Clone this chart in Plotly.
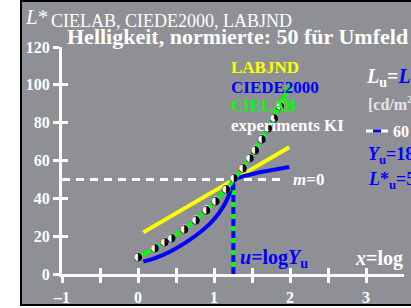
import plotly.graph_objects as go

W, H = 411, 308

# ---------------- data ----------------
lab_x = [0.0, 0.25, 0.5, 0.75, 1.0, 1.25, 1.5, 1.75, 2.0]          # CIELAB
lab_L = [9.0, 14.3, 20.7, 28.4, 37.8, 49.2, 63.0, 79.8, 100.0]

de_low_x = [0.07, 0.25, 0.42, 0.6, 0.77, 0.95, 1.08, 1.19, 1.255]    # CIEDE2000 below surround
de_low_L = [6.5, 8.8, 11.8, 15.9, 20.6, 26.8, 33.0, 40.9, 50.0]
de_high_x = [1.255, 1.4, 1.55, 1.75, 1.99]                          # CIEDE2000 above surround
de_high_L = [50.0, 51.9, 53.3, 54.8, 56.6]

jnd_x = [0.07, 1.99]                                                # LABJND
jnd_L = [22.0, 67.0]

ki_x = [0.0, 0.22, 0.35, 0.44, 0.61, 0.76, 0.90, 1.02, 1.16, 1.26,
        1.38, 1.47, 1.54, 1.63, 1.71, 1.79, 1.87]                   # experiments KI
ki_L = [8.8, 13.6, 16.8, 18.9, 23.8, 28.6, 33.9, 38.6, 45.0, 50.6,
        55.9, 61.2, 65.6, 71.3, 77.1, 82.4, 88.9]

u_log = 1.255          # u = log Y_u
L_surround = 50        # L*_u
m_line_end = 1.91

x_range = [-1, 3.5]
y_range = [0, 120]
x_ticks = [-1, -0.5, 0, 0.5, 1, 1.5, 2, 2.5, 3]
x_labels = ["\u20131", " ", "0", " ", "1", " ", "2", " ", "3"]
y_ticks = [0, 20, 40, 60, 80, 100, 120]
y_labels = ["0", "20", "40", "60", "80", "100", "120"]

legend_names = ["LABJND", "CIEDE2000", "CIELAB", "experiments KI"]

# ---------------- styles ----------------
GREY = "#8f9095"
SERIF = "Liberation Serif"
YEL, BLU, GRN, WHT = "#ffff00", "#0000ff", "#00ff00", "#ffffff"


def px(x):
    return x / W


def py(y):
    return 1 - y / H


fig = go.Figure()

# horizontal surround line m=0
fig.add_trace(go.Scatter(x=[x_range[0], m_line_end], y=[L_surround, L_surround], mode="lines",
                         line=dict(color=WHT, width=3, dash="8px,6px"), hoverinfo="skip"))
# vertical u line (green under blue dashes)
fig.add_trace(go.Scatter(x=[u_log, u_log], y=[0, L_surround], mode="lines",
                         line=dict(color=GRN, width=4), hoverinfo="skip"))
fig.add_trace(go.Scatter(x=[u_log, u_log], y=[0, L_surround], mode="lines",
                         line=dict(color=BLU, width=4, dash="7px,5px"), hoverinfo="skip"))
# LABJND
fig.add_trace(go.Scatter(x=jnd_x, y=jnd_L, mode="lines", line=dict(color=YEL, width=4), hoverinfo="skip"))
# CIEDE2000
fig.add_trace(go.Scatter(x=de_low_x, y=de_low_L, mode="lines", line=dict(color=BLU, width=4, shape="spline"),
                         hoverinfo="skip"))
fig.add_trace(go.Scatter(x=de_high_x, y=de_high_L, mode="lines", line=dict(color=BLU, width=4, shape="spline"),
                         hoverinfo="skip"))
# CIELAB
fig.add_trace(go.Scatter(x=lab_x, y=lab_L, mode="lines", line=dict(color=GRN, width=4, shape="spline"),
                         hoverinfo="skip"))
# experiments KI: white disc with right half black
fig.add_trace(go.Scatter(x=ki_x, y=ki_L, mode="markers",
                         marker=dict(symbol="circle", size=9, color=WHT, line=dict(width=0)),
                         hoverinfo="skip"))
fig.add_trace(go.Scatter(x=ki_x, y=ki_L, mode="text", text=["\u25d1"] * len(ki_x),
                         textfont=dict(family="DejaVu Sans", size=11, color="#000000"),
                         textposition="middle center", hoverinfo="skip"))
# helper axes for crossing ticks
fig.add_trace(go.Scatter(x=[], y=[], xaxis="x2", yaxis="y2", hoverinfo="skip"))

tickfont = dict(family=SERIF, size=16, color=WHT, weight="bold")
axis_common = dict(showgrid=False, zeroline=False, linecolor=WHT, linewidth=3,
                   tickcolor=WHT, tickwidth=3, ticklen=6, automargin=False)

fig.update_layout(
    template="none",
    width=W, height=H,
    margin=dict(l=0, r=0, t=0, b=0, pad=0),
    paper_bgcolor="#ffffff",
    plot_bgcolor=GREY,
    showlegend=False,
    xaxis=dict(domain=[px(62), px(404)], range=x_range, showline=True, ticks="outside",
               tickmode="array", tickvals=x_ticks, ticktext=x_labels, tickfont=tickfont,
               ticklabelstandoff=1, anchor="y", **axis_common),
    yaxis=dict(domain=[py(274), py(47)], range=y_range, showline=True, ticks="outside",
               tickmode="array", tickvals=y_ticks, ticktext=y_labels, tickfont=tickfont,
               anchor="x", **axis_common),
    xaxis2=dict(overlaying="x", matches="x", showline=False, ticks="inside", tickmode="array",
                tickvals=x_ticks, showticklabels=False, anchor="y", **axis_common),
    yaxis2=dict(overlaying="y", matches="y", showline=False, ticks="inside", tickmode="array",
                tickvals=y_ticks, showticklabels=False, anchor="x", side="left", **axis_common),
)

# grey panel with black frame
fig.add_shape(type="rect", xref="paper", yref="paper", x0=px(21), x1=px(413), y0=py(305), y1=py(1),
              fillcolor=GREY, line=dict(color="#000000", width=2), layer="below")

# legend sample for 60
fig.add_shape(type="line", xref="paper", yref="paper", x0=px(366), x1=px(388), y0=py(131), y1=py(131),
              line=dict(color=WHT, width=3))
fig.add_shape(type="line", xref="paper", yref="paper", x0=px(373), x1=px(381), y0=py(131), y1=py(131),
              line=dict(color=BLU, width=3))


def ann(text, x, y, size, color=WHT, bold=False, anchor="left"):
    fig.add_annotation(text=text, x=px(x), y=py(y), xref="paper", yref="paper",
                       xanchor=anchor, yanchor="middle", showarrow=False,
                       font=dict(family=SERIF, size=size, color=color, weight="bold" if bold else "normal"))


ann("<i>L</i>*", 23, 17, 21)
ann("CIELAB, CIEDE2000, LABJND", 49, 21, 18)
ann("Helligkeit, normierte: 50 für Umfeld", 65, 36, 22, bold=True)

leg_colors = [YEL, BLU, GRN, WHT]
leg_y = [68, 87, 106, 125]
for name, c, yy in zip(legend_names, leg_colors, leg_y):
    ann(name, 229, yy, 17, color=c, bold=True)

ann("<i>L</i><sub>u</sub>=<span style='color:#0000ff'><i>L</i></span>", 364, 77, 20, bold=True)
ann("[cd/m<sup>2</sup>]", 366, 103, 16, color="#e6e6e6", bold=True)
ann("60", 391, 131, 16, bold=True)
ann("<i>Y</i><sub>u</sub>=18", 366, 155, 18, color=BLU, bold=True)
ann("<i>L</i>*<sub>u</sub>=50", 366, 180, 18, color=BLU, bold=True)
ann("<i>m</i>=0", 291, 179, 17, bold=True)
ann("<i>u</i>=log<i>Y</i><sub>u</sub>", 238, 258, 20, color=BLU, bold=True)
ann("<i>x</i>=log", 353, 258, 20, bold=True)

fig.write_html("out.html", config={"displayModeBar": False},
               post_script="document.body.style.margin='0';document.body.style.overflow='hidden';")
